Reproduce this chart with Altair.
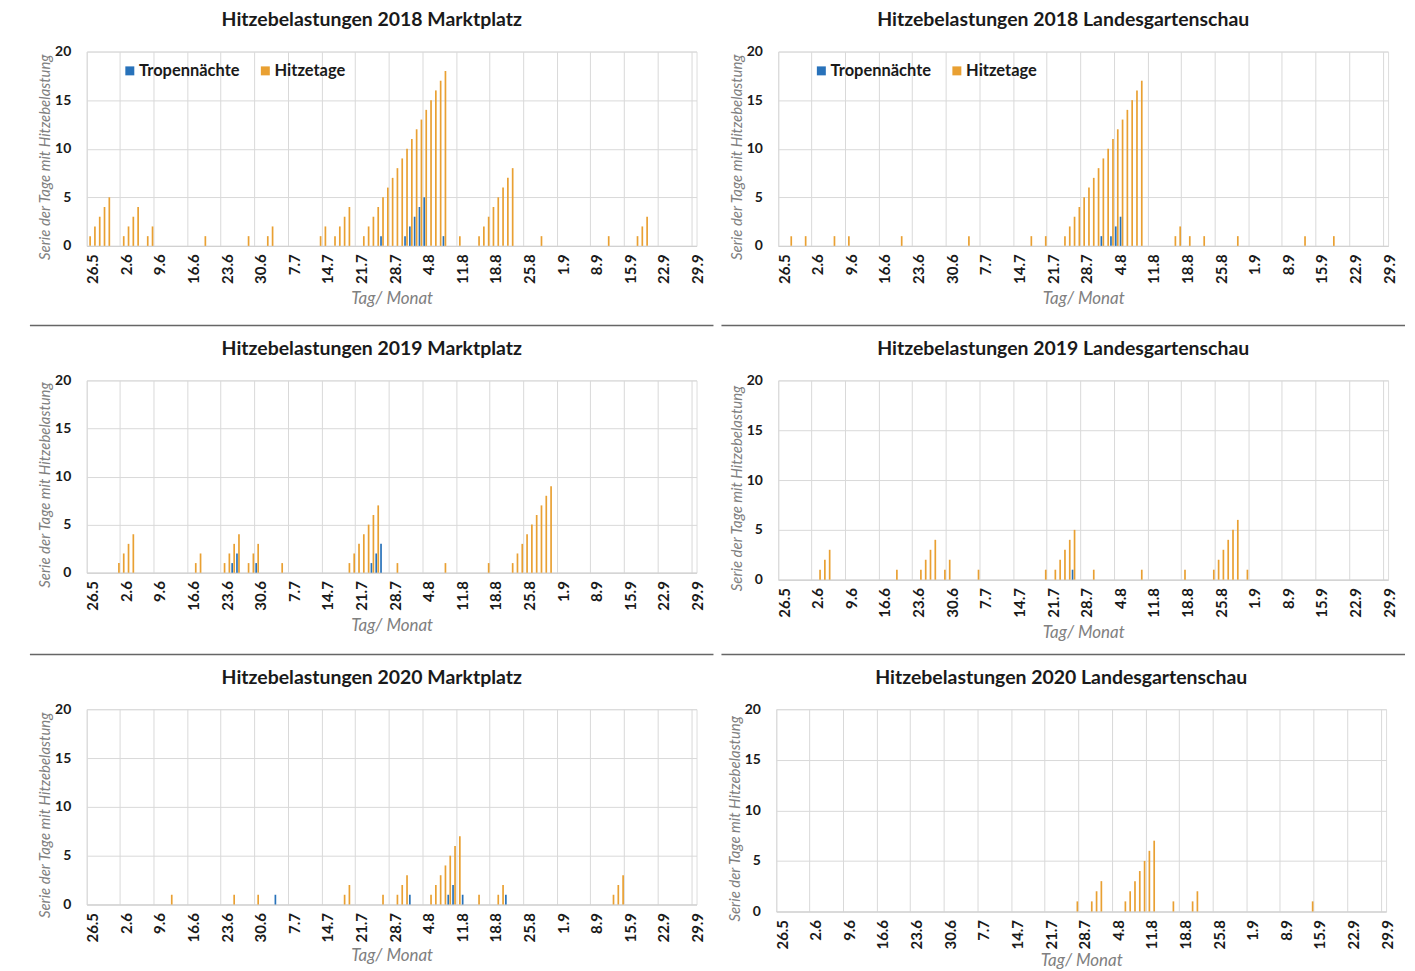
import altair as alt
import pandas as pd

# ---------------- categories ----------------
tage = [f"{d.day}.{d.month}" for d in pd.date_range("2018-05-26", "2018-09-29")]
tick_labels = ["26.5", "2.6", "9.6", "16.6", "23.6", "30.6", "7.7", "14.7", "21.7",
               "28.7", "4.8", "11.8", "18.8", "25.8", "1.9", "8.9", "15.9", "22.9", "29.9"]
serien = ["Tropennächte", "Hitzetage"]
farben = ["#2872BA", "#E9A032"]

# ---------------- values (day -> length of series) ----------------
markt_2018_tropen = {"26.7": 1, "31.7": 1, "1.8": 2, "2.8": 3, "3.8": 4, "4.8": 5, "8.8": 1}
markt_2018_hitze = {"26.5": 1, "27.5": 2, "28.5": 3, "29.5": 4, "30.5": 5, "2.6": 1, "3.6": 2,
                    "4.6": 3, "5.6": 4, "7.6": 1, "8.6": 2, "19.6": 1, "28.6": 1, "2.7": 1,
                    "3.7": 2, "13.7": 1, "14.7": 2, "16.7": 1, "17.7": 2, "18.7": 3, "19.7": 4,
                    "22.7": 1, "23.7": 2, "24.7": 3, "25.7": 4, "26.7": 5, "27.7": 6, "28.7": 7,
                    "29.7": 8, "30.7": 9, "31.7": 10, "1.8": 11, "2.8": 12, "3.8": 13, "4.8": 14,
                    "5.8": 15, "6.8": 16, "7.8": 17, "8.8": 18, "11.8": 1, "15.8": 1, "16.8": 2,
                    "17.8": 3, "18.8": 4, "19.8": 5, "20.8": 6, "21.8": 7, "22.8": 8, "28.8": 1,
                    "11.9": 1, "17.9": 1, "18.9": 2, "19.9": 3}

lgs_2018_tropen = {"1.8": 1, "3.8": 1, "4.8": 2, "5.8": 3}
lgs_2018_hitze = {"28.5": 1, "31.5": 1, "6.6": 1, "9.6": 1, "20.6": 1, "4.7": 1, "17.7": 1,
                  "20.7": 1, "24.7": 1, "25.7": 2, "26.7": 3, "27.7": 4, "28.7": 5, "29.7": 6,
                  "30.7": 7, "31.7": 8, "1.8": 9, "2.8": 10, "3.8": 11, "4.8": 12, "5.8": 13,
                  "6.8": 14, "7.8": 15, "8.8": 16, "9.8": 17, "16.8": 1, "17.8": 2, "19.8": 1,
                  "22.8": 1, "29.8": 1, "12.9": 1, "18.9": 1}

markt_2019_tropen = {"25.6": 1, "26.6": 2, "30.6": 1, "24.7": 1, "25.7": 2, "26.7": 3}
markt_2019_hitze = {"1.6": 1, "2.6": 2, "3.6": 3, "4.6": 4, "17.6": 1, "18.6": 2, "23.6": 1,
                    "24.6": 2, "25.6": 3, "26.6": 4, "28.6": 1, "29.6": 2, "30.6": 3, "5.7": 1,
                    "19.7": 1, "20.7": 2, "21.7": 3, "22.7": 4, "23.7": 5, "24.7": 6, "25.7": 7,
                    "29.7": 1, "8.8": 1, "17.8": 1, "22.8": 1, "23.8": 2, "24.8": 3, "25.8": 4,
                    "26.8": 5, "27.8": 6, "28.8": 7, "29.8": 8, "30.8": 9}

lgs_2019_tropen = {"26.7": 1}
lgs_2019_hitze = {"3.6": 1, "4.6": 2, "5.6": 3, "19.6": 1, "24.6": 1, "25.6": 2, "26.6": 3,
                  "27.6": 4, "29.6": 1, "30.6": 2, "6.7": 1, "20.7": 1, "22.7": 1, "23.7": 2,
                  "24.7": 3, "25.7": 4, "26.7": 5, "30.7": 1, "9.8": 1, "18.8": 1, "24.8": 1,
                  "25.8": 2, "26.8": 3, "27.8": 4, "28.8": 5, "29.8": 6, "31.8": 1}

markt_2020_tropen = {"4.7": 1, "1.8": 1, "9.8": 1, "10.8": 2, "12.8": 1, "21.8": 1}
markt_2020_hitze = {"12.6": 1, "25.6": 1, "30.6": 1, "18.7": 1, "19.7": 2, "26.7": 1, "29.7": 1,
                    "30.7": 2, "31.7": 3, "5.8": 1, "6.8": 2, "7.8": 3, "8.8": 4, "9.8": 5,
                    "10.8": 6, "11.8": 7, "15.8": 1, "19.8": 1, "20.8": 2, "12.9": 1, "13.9": 2,
                    "14.9": 3}

lgs_2020_tropen = {}
lgs_2020_hitze = {"27.7": 1, "30.7": 1, "31.7": 2, "1.8": 3, "6.8": 1, "7.8": 2, "8.8": 3,
                  "9.8": 4, "10.8": 5, "11.8": 6, "12.8": 7, "16.8": 1, "20.8": 1, "21.8": 2,
                  "14.9": 1}

FONT = "Lato"
PLOT_W = 612


def make_df(tropen, hitze):
    rows = []
    for name, vals in ((serien[0], tropen), (serien[1], hitze)):
        for tag, wert in vals.items():
            rows.append({"tag": tag, "serie": name, "wert": wert})
    return pd.DataFrame(rows, columns=["tag", "serie", "wert"])


def panel(title, tropen, hitze, height, legend, sep_visible, xtitle_y=53):
    df = make_df(tropen, hitze)
    if legend:
        leg = alt.Legend(title=None, orient="none", legendX=35, legendY=11,
                         direction="horizontal", symbolType="square", symbolSize=81,
                         symbolStrokeWidth=0, labelFont=FONT, labelFontSize=16.5,
                         labelFontWeight="bold", labelColor="#1a1a1a", labelOffset=1,
                         columnPadding=17, padding=0)
    else:
        leg = None
    bars = alt.Chart(df).mark_bar().encode(
        x=alt.X("tag:O",
                scale=alt.Scale(domain=tage, paddingInner=0, paddingOuter=0),
                axis=alt.Axis(values=tick_labels, labelAngle=270, bandPosition=0,
                              labelOffset=4, labelPadding=8, ticks=False,
                              labelFont=FONT, labelFontSize=15, labelFontWeight="bold",
                              labelColor="#1a1a1a", grid=True, gridColor="#D9D9D9",
                              domainColor="#D0D0D0", title="Tag/ Monat", titleFont=FONT,
                              titleFontSize=17, titleFontStyle="italic",
                              titleFontWeight="normal", titleColor="#808080",
                              titleY=xtitle_y, titleBaseline="middle")),
        xOffset=alt.XOffset("serie:N",
                            scale=alt.Scale(domain=serien, paddingInner=0.15, paddingOuter=0.28)),
        y=alt.Y("wert:Q",
                scale=alt.Scale(domain=[0, 20]),
                axis=alt.Axis(values=[0, 5, 10, 15, 20], ticks=False, domain=False,
                              labelPadding=16, labelFont=FONT, labelFontSize=14,
                              labelFontWeight="bold", labelColor="#1a1a1a",
                              gridColor="#D9D9D9",
                              title="Serie der Tage mit Hitzebelastung", titleFont=FONT,
                              titleFontSize=15, titleFontStyle="italic",
                              titleFontWeight="normal", titleColor="#808080",
                              titleX=-42, titleY=height / 2 + 8, titleBaseline="middle")),
        color=alt.Color("serie:N", scale=alt.Scale(domain=serien, range=farben), legend=leg),
    )
    sep = alt.Chart(pd.DataFrame({"s": [0]})).mark_rule(
        color="#666666", strokeWidth=1.5, opacity=1 if sep_visible else 0
    ).encode(x=alt.value(-57), x2=alt.value(629),
             y=alt.value(275 if sep_visible else height))
    return alt.layer(bars, sep).properties(
        width=PLOT_W, height=height,
        title=alt.TitleParams(title, font=FONT, fontSize=19.5, fontWeight="bold",
                              color="#1a1a1a", anchor="middle", frame="bounds", offset=14),
    )


p1 = panel("Hitzebelastungen 2018 Marktplatz", markt_2018_tropen, markt_2018_hitze, 195, True, True)
p2 = panel("Hitzebelastungen 2018 Landesgartenschau", lgs_2018_tropen, lgs_2018_hitze, 195, True, True)
p3 = panel("Hitzebelastungen 2019 Marktplatz", markt_2019_tropen, markt_2019_hitze, 193, False, True)
p4 = panel("Hitzebelastungen 2019 Landesgartenschau", lgs_2019_tropen, lgs_2019_hitze, 200, False, True)
p5 = panel("Hitzebelastungen 2020 Marktplatz", markt_2020_tropen, markt_2020_hitze, 196, False, False, 51)
p6 = panel("Hitzebelastungen 2020 Landesgartenschau", lgs_2020_tropen, lgs_2020_hitze, 203, False, False, 49)

row1 = alt.hconcat(p1, p2, spacing=4).resolve_scale(color="independent")
row2 = alt.hconcat(p3, p4, spacing=4).resolve_scale(color="independent")
row3 = alt.hconcat(p5, p6, spacing=4).resolve_scale(color="independent")

chart = alt.vconcat(row1, row2, row3, spacing=11).resolve_scale(
    color="independent"
).properties(
    padding={"left": 20, "top": 0, "right": 0, "bottom": 0}
).configure_view(stroke=None).configure(font=FONT)

chart.save("out.html", embed_options={"renderer": "svg", "actions": False})
